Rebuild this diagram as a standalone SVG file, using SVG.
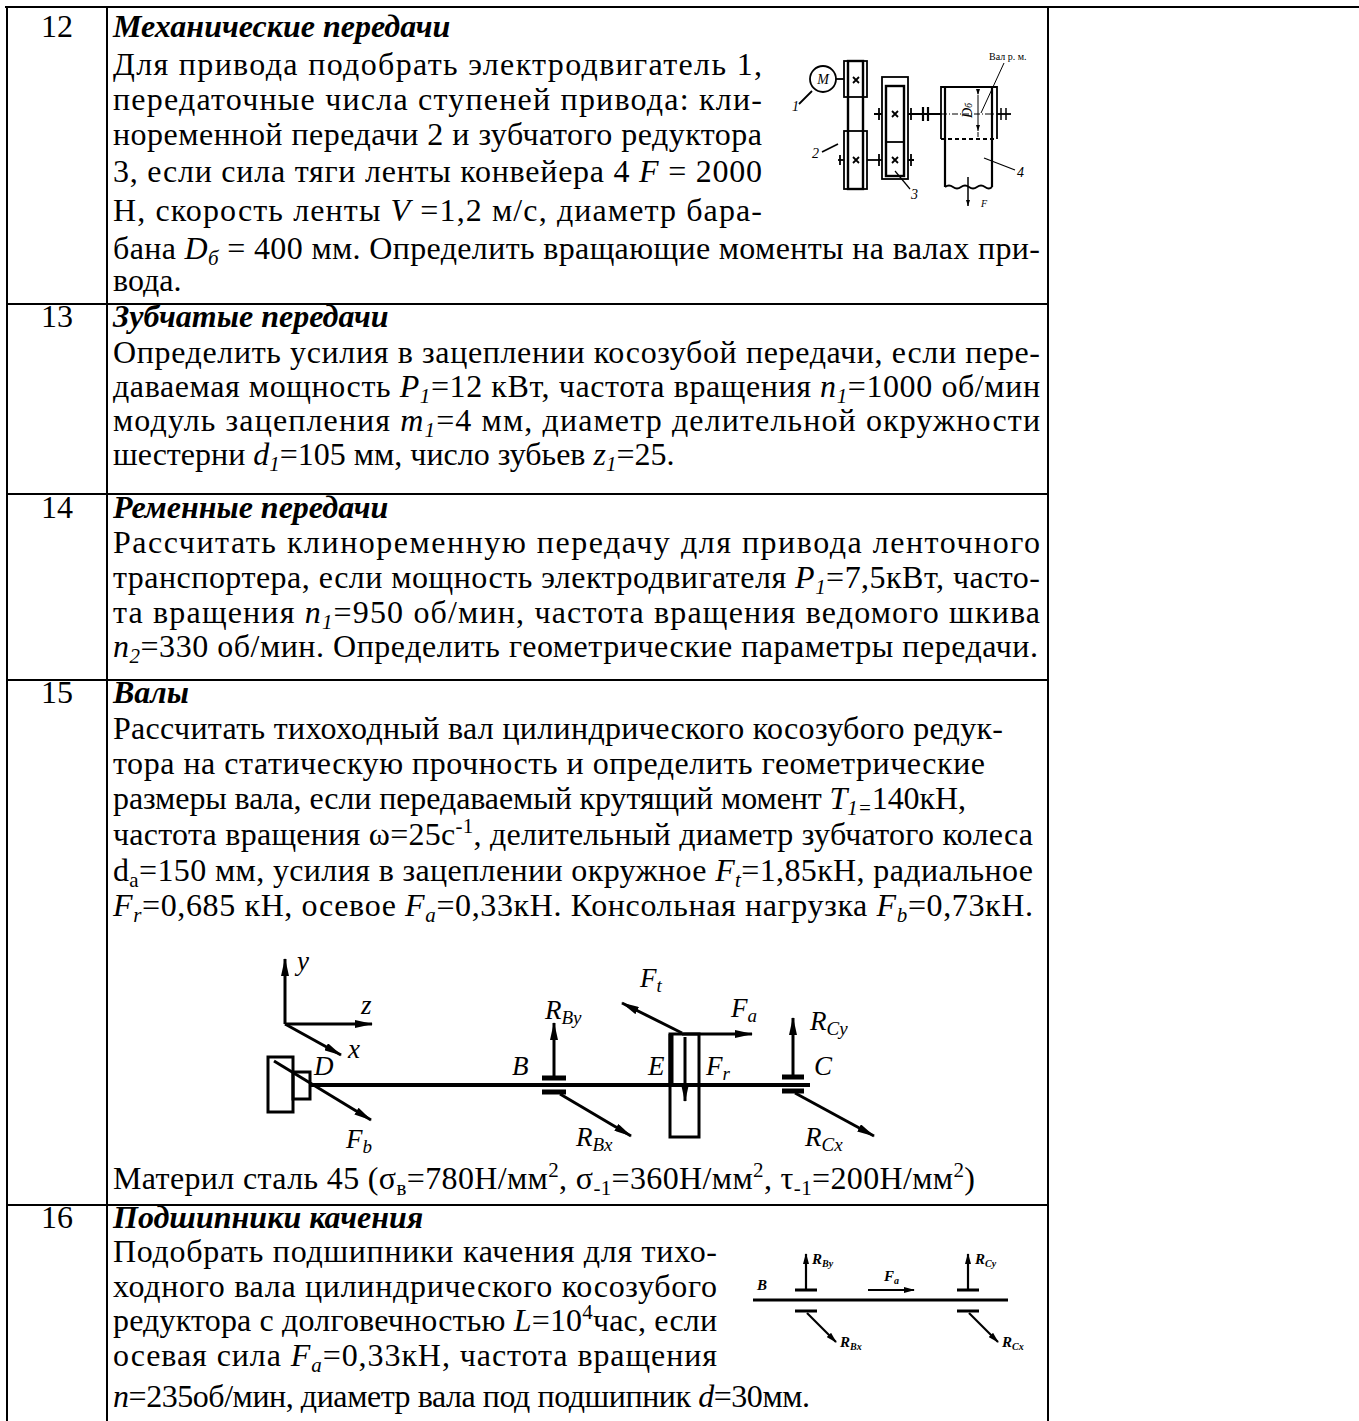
<svg xmlns="http://www.w3.org/2000/svg" width="1359" height="1421" viewBox="0 0 1359 1421">
<defs>
<style>
text{font-family:"Liberation Serif","Times New Roman",serif;fill:#000}
.t{font-size:32px}
.n{font-size:32px;text-anchor:middle}
.h{font-weight:bold;font-style:italic}
.i{font-style:italic}
.sb{font-size:21px;baseline-shift:-6px}
.sp{font-size:21px;baseline-shift:12px}
.grid line{stroke:#000;stroke-width:2}
.dg{stroke:#000;fill:none}
.lb{font-style:italic;font-size:27px}
.lbs{font-style:italic;font-size:19px}
.bl{font-style:italic;font-weight:bold;font-size:15px}
.bls{font-style:italic;font-weight:bold;font-size:10px}
.gl{font-style:italic;font-size:14px}
</style>
<marker id="ah" viewBox="0 0 18 8" refX="17" refY="4" markerWidth="18" markerHeight="8" markerUnits="userSpaceOnUse" orient="auto"><path d="M0,0 L18,4 L0,8 z" fill="#000"/></marker>
<marker id="as" viewBox="0 0 11 6" refX="10" refY="3" markerWidth="11" markerHeight="6" markerUnits="userSpaceOnUse" orient="auto"><path d="M0,0 L11,3 L0,6 z" fill="#000"/></marker>
<marker id="at" viewBox="0 0 6 4" refX="6" refY="2" markerWidth="6" markerHeight="4" markerUnits="userSpaceOnUse" orient="auto"><path d="M0,0 L6,2 L0,4 z" fill="#000"/></marker>
</defs>
<rect width="1359" height="1421" fill="#fff"/>

<g id="table" class="grid">
<line x1="5" y1="7" x2="1359" y2="7"/>
<line x1="7" y1="6" x2="7" y2="1421"/>
<line x1="107" y1="7" x2="107" y2="1421"/>
<line x1="1048" y1="7" x2="1048" y2="1421"/>
<line x1="7" y1="304" x2="1048" y2="304"/>
<line x1="7" y1="494" x2="1048" y2="494"/>
<line x1="7" y1="680" x2="1048" y2="680"/>
<line x1="7" y1="1205" x2="1048" y2="1205"/>
</g>

<g id="row-12">
<text class="n" x="57" y="37">12</text>
<text class="t h" x="113" y="37">Механические передачи</text>
<text class="t" x="113" y="75" textLength="649" lengthAdjust="spacing">Для привода подобрать электродвигатель 1,</text>
<text class="t" x="113" y="110" textLength="649" lengthAdjust="spacing">передаточные числа ступеней привода: кли-</text>
<text class="t" x="113" y="145" textLength="649" lengthAdjust="spacing">ноременной передачи 2 и зубчатого редуктора</text>
<text class="t" x="113" y="182" textLength="649" lengthAdjust="spacing">3, если сила тяги ленты конвейера 4 <tspan class="i">F</tspan> = 2000</text>
<text class="t" x="113" y="221" textLength="649" lengthAdjust="spacing">Н, скорость ленты <tspan class="i">V</tspan> =1,2 м/с, диаметр бара-</text>
<text class="t" x="113" y="259" textLength="927" lengthAdjust="spacing">бана <tspan class="i">D<tspan class="sb">б</tspan></tspan> = 400 мм. Определить вращающие моменты на валах при-</text>
<text class="t" x="113" y="291">вода.</text>
</g>

<g id="drive-diagram" class="dg" stroke-width="1.8" transform="translate(0,-6)">
<circle cx="823" cy="85" r="13"/>
<text class="gl" x="823" y="90" text-anchor="middle" stroke="none">M</text>
<line x1="836" y1="85" x2="844" y2="85"/>
<line x1="799" y1="110" x2="812" y2="97"/>
<text class="gl" x="792" y="117" stroke="none">1</text>
<rect x="844" y="67" width="23" height="36"/>
<rect x="844" y="137" width="23" height="58"/>
<rect x="848" y="67" width="15" height="128" stroke-width="2.4"/>
<path d="M853,83 l6,6 M859,83 l-6,6 M853,163 l6,6 M859,163 l-6,6"/>
<line x1="822" y1="158" x2="838" y2="150"/>
<text class="gl" x="812" y="164" stroke="none">2</text>
<line x1="838" y1="166" x2="844" y2="166"/>
<line x1="840" y1="161" x2="840" y2="171"/>
<line x1="867" y1="166" x2="882" y2="166"/>
<rect x="882" y="83" width="26" height="102"/>
<rect x="886" y="92" width="18" height="90" stroke-width="2.4"/>
<line x1="886" y1="148" x2="904" y2="148"/>
<path d="M892,117 l6,6 M898,117 l-6,6 M892,163 l6,6 M898,163 l-6,6"/>
<path d="M879,114 v12 M911,114 v12 M879,160 v12 M911,160 v12"/>
<path d="M874,120 h8 M908,166 h6"/>
<line x1="908" y1="120" x2="941" y2="120"/>
<path d="M923,113 v14 M928,113 v14" stroke-width="2.2"/>
<path d="M941,145 V93 H997 V145"/>
<line x1="941" y1="145" x2="997" y2="145" stroke-dasharray="4 3"/>
<path d="M945,93 V193 M992,93 V193" stroke-width="2.2"/>
<path d="M945,193 q4,-3 8,0 t8,0 t8,0 t8,0 t8,0 t7,0"/>
<line x1="941" y1="120" x2="1000" y2="120" stroke-dasharray="6 2 1 2" stroke-width="1"/>
<line x1="978" y1="101" x2="978" y2="137" stroke-width="1" marker-end="url(#at)" marker-start="url(#at)"/>
<line x1="978" y1="100" x2="978" y2="95" stroke-width="1"/>
<line x1="978" y1="138" x2="978" y2="143" stroke-width="1"/>
<text class="gl" transform="translate(972,124) rotate(-90)" stroke="none">D<tspan font-size="10">б</tspan></text>
<line x1="997" y1="120" x2="1011" y2="120"/>
<path d="M1001,114 v12 M1006,114 v12" stroke-width="1.5"/>
<text x="989" y="66" font-family="Liberation Sans, Arial, sans-serif" font-size="10" stroke="none">Вал р. м.</text>
<line x1="1004" y1="69" x2="981" y2="119" stroke-width="1"/>
<line x1="1015" y1="176" x2="984" y2="164" stroke-width="1.2"/>
<text class="gl" x="1017" y="183" stroke="none">4</text>
<line x1="910" y1="195" x2="895" y2="177" stroke-width="1.2"/>
<text class="gl" x="911" y="205" stroke="none">3</text>
<line x1="968" y1="183" x2="968" y2="212" stroke-width="1.5" marker-end="url(#at)"/>
<text x="981" y="213" font-size="10" font-style="italic" stroke="none">F</text>
</g>

<g id="row-13">
<text class="n" x="57" y="327">13</text>
<text class="t h" x="113" y="327">Зубчатые передачи</text>
<text class="t" x="113" y="363" textLength="927" lengthAdjust="spacing">Определить усилия в зацеплении косозубой передачи, если пере-</text>
<text class="t" x="113" y="397" textLength="927" lengthAdjust="spacing">даваемая мощность <tspan class="i">P<tspan class="sb">1</tspan></tspan>=12 кВт, частота вращения <tspan class="i">n<tspan class="sb">1</tspan></tspan>=1000 об/мин</text>
<text class="t" x="113" y="431" textLength="927" lengthAdjust="spacing">модуль зацепления <tspan class="i">m<tspan class="sb">1</tspan></tspan>=4 мм, диаметр делительной окружности</text>
<text class="t" x="113" y="465">шестерни <tspan class="i">d<tspan class="sb">1</tspan></tspan>=105 мм, число зубьев <tspan class="i">z<tspan class="sb">1</tspan></tspan>=25.</text>
</g>

<g id="row-14">
<text class="n" x="57" y="518">14</text>
<text class="t h" x="113" y="518">Ременные передачи</text>
<text class="t" x="113" y="553" textLength="927" lengthAdjust="spacing">Рассчитать клиноременную передачу для привода ленточного</text>
<text class="t" x="113" y="588" textLength="927" lengthAdjust="spacing">транспортера, если мощность электродвигателя <tspan class="i">P<tspan class="sb">1</tspan></tspan>=7,5кВт, часто-</text>
<text class="t" x="113" y="623" textLength="927" lengthAdjust="spacing">та вращения <tspan class="i">n<tspan class="sb">1</tspan></tspan>=950 об/мин, частота вращения ведомого шкива</text>
<text class="t" x="113" y="657" textLength="925" lengthAdjust="spacing"><tspan class="i">n<tspan class="sb">2</tspan></tspan>=330 об/мин. Определить геометрические параметры передачи.</text>
</g>

<g id="row-15">
<text class="n" x="57" y="703">15</text>
<text class="t h" x="113" y="703">Валы</text>
<text class="t" x="113" y="739" textLength="890" lengthAdjust="spacing">Рассчитать тихоходный вал цилиндрического косозубого редук-</text>
<text class="t" x="113" y="774" textLength="872" lengthAdjust="spacing">тора на статическую прочность и определить геометрические</text>
<text class="t" x="113" y="809" textLength="853" lengthAdjust="spacing">размеры вала, если передаваемый крутящий момент <tspan class="i">T<tspan class="sb">1=</tspan></tspan>140кН,</text>
<text class="t" x="113" y="845" textLength="920" lengthAdjust="spacing">частота вращения ω=25с<tspan class="sp">-1</tspan>, делительный диаметр зубчатого колеса</text>
<text class="t" x="113" y="881" textLength="920" lengthAdjust="spacing">d<tspan class="sb">a</tspan>=150 мм, усилия в зацеплении окружное <tspan class="i">F<tspan class="sb">t</tspan></tspan>=1,85кН, радиальное</text>
<text class="t" x="113" y="916" textLength="920" lengthAdjust="spacing"><tspan class="i">F<tspan class="sb">r</tspan></tspan>=0,685 кН, осевое <tspan class="i">F<tspan class="sb">a</tspan></tspan>=0,33кН. Консольная нагрузка <tspan class="i">F<tspan class="sb">b</tspan></tspan>=0,73кН.</text>
<text class="t" x="113" y="1189" textLength="862" lengthAdjust="spacing">Материл сталь 45 (σ<tspan class="sb">в</tspan>=780Н/мм<tspan class="sp">2</tspan>, σ<tspan class="sb">-1</tspan>=360Н/мм<tspan class="sp">2</tspan>, τ<tspan class="sb">-1</tspan>=200Н/мм<tspan class="sp">2</tspan>)</text>
</g>

<g id="shaft-diagram" transform="translate(0,-3)">
<g class="dg" stroke-width="3">
<line x1="285" y1="1027" x2="285" y2="962" marker-end="url(#ah)"/>
<line x1="285" y1="1027" x2="372" y2="1027" marker-end="url(#ah)"/>
<line x1="285" y1="1027" x2="341" y2="1058" marker-end="url(#ah)"/>
<rect x="268" y="1060" width="25" height="55"/>
<rect x="293" y="1075" width="17" height="27"/>
<line x1="274" y1="1064" x2="371" y2="1123" marker-end="url(#ah)"/>
<line x1="310" y1="1088" x2="810" y2="1088" stroke-width="4"/>
<path d="M542,1081 h24 M542,1095 h24" stroke-width="5"/>
<line x1="554" y1="1080" x2="554" y2="1026" marker-end="url(#ah)"/>
<line x1="560" y1="1097" x2="631" y2="1139" marker-end="url(#ah)"/>
<rect x="670" y="1037" width="29" height="103"/>
<line x1="671" y1="1037" x2="671" y2="1088" stroke-width="5"/>
<line x1="685" y1="1040" x2="685" y2="1104" marker-end="url(#ah)"/>
<line x1="682" y1="1036" x2="622" y2="1006" marker-end="url(#ah)"/>
<line x1="682" y1="1037" x2="752" y2="1037" marker-end="url(#ah)"/>
<path d="M782,1080 h22 M782,1094 h22" stroke-width="5"/>
<line x1="793" y1="1078" x2="793" y2="1021" marker-end="url(#ah)"/>
<line x1="795" y1="1096" x2="874" y2="1139" marker-end="url(#ah)"/>
</g>
<text class="lb" x="297" y="973">y</text>
<text class="lb" x="361" y="1017">z</text>
<text class="lb" x="348" y="1061">x</text>
<text class="lb" x="314" y="1078">D</text>
<text class="lb" x="346" y="1151">F<tspan class="lbs" dy="5">b</tspan></text>
<text class="lb" x="512" y="1078">B</text>
<text class="lb" x="545" y="1022">R<tspan class="lbs" dy="5">By</tspan></text>
<text class="lb" x="576" y="1149">R<tspan class="lbs" dy="5">Bx</tspan></text>
<text class="lb" x="640" y="990">F<tspan class="lbs" dy="5">t</tspan></text>
<text class="lb" x="731" y="1020">F<tspan class="lbs" dy="5">a</tspan></text>
<text class="lb" x="648" y="1078">E</text>
<text class="lb" x="706" y="1078">F<tspan class="lbs" dy="5">r</tspan></text>
<text class="lb" x="810" y="1033">R<tspan class="lbs" dy="5">Cy</tspan></text>
<text class="lb" x="814" y="1078">C</text>
<text class="lb" x="805" y="1149">R<tspan class="lbs" dy="5">Cx</tspan></text>
</g>

<g id="row-16">
<text class="n" x="57" y="1228">16</text>
<text class="t h" x="113" y="1228">Подшипники качения</text>
<text class="t" x="113" y="1262" textLength="604" lengthAdjust="spacing">Подобрать подшипники качения для тихо-</text>
<text class="t" x="113" y="1297" textLength="604" lengthAdjust="spacing">ходного вала цилиндрического косозубого</text>
<text class="t" x="113" y="1331" textLength="604" lengthAdjust="spacing">редуктора с долговечностью <tspan class="i">L</tspan>=10<tspan class="sp">4</tspan>час, если</text>
<text class="t" x="113" y="1366" textLength="604" lengthAdjust="spacing">осевая сила <tspan class="i">F<tspan class="sb">a</tspan></tspan>=0,33кН, частота вращения</text>
<text class="t" x="113" y="1407" textLength="697" lengthAdjust="spacing"><tspan class="i">n</tspan>=235об/мин, диаметр вала под подшипник <tspan class="i">d</tspan>=30мм.</text>
</g>

<g id="bearing-diagram">
<g class="dg" stroke-width="2.2">
<line x1="753" y1="1300" x2="1008" y2="1300" stroke-width="3"/>
<path d="M795,1290 h22 M795,1311 h22 M957,1290 h22 M957,1311 h22" stroke-width="3"/>
<line x1="806" y1="1290" x2="806" y2="1254" marker-end="url(#as)"/>
<line x1="807" y1="1313" x2="836" y2="1342" marker-end="url(#as)"/>
<line x1="868" y1="1290" x2="914" y2="1290" stroke-width="1.8" marker-end="url(#as)"/>
<line x1="968" y1="1290" x2="968" y2="1254" marker-end="url(#as)"/>
<line x1="969" y1="1313" x2="998" y2="1342" marker-end="url(#as)"/>
</g>
<text class="bl" x="757" y="1290">B</text>
<text class="bl" x="812" y="1264">R<tspan class="bls" dy="3">By</tspan></text>
<text class="bl" x="840" y="1347">R<tspan class="bls" dy="3">Bx</tspan></text>
<text class="bl" x="884" y="1281">F<tspan class="bls" dy="3">a</tspan></text>
<text class="bl" x="975" y="1264">R<tspan class="bls" dy="3">Cy</tspan></text>
<text class="bl" x="1002" y="1347">R<tspan class="bls" dy="3">Cx</tspan></text>
</g>
</svg>
